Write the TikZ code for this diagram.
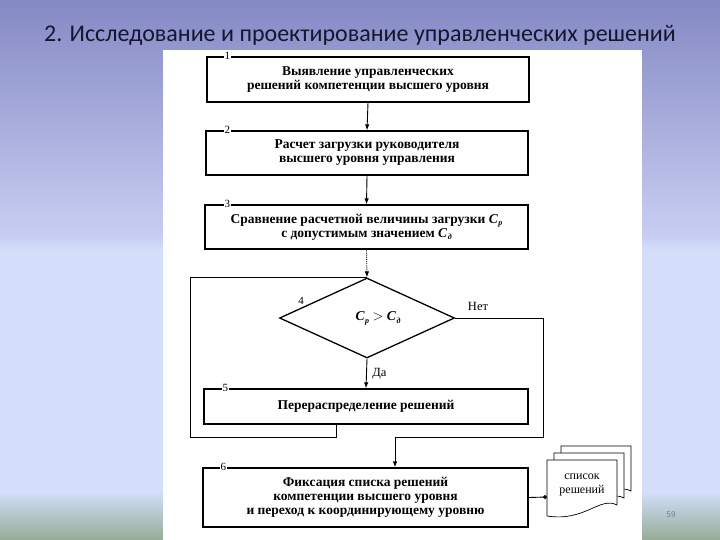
\documentclass[tikz,border=0pt]{standalone}
\usepackage{fontspec}
\setmainfont{Liberation Serif}
\newfontfamily\titlefont{Carlito}
\usetikzlibrary{shapes.geometric,arrows.meta}
\definecolor{bgtop}{RGB}{133,137,196}
\definecolor{bgmid}{RGB}{200,206,242}
\definecolor{bglight}{RGB}{210,222,250}
\definecolor{bggreen}{RGB}{150,172,150}
\definecolor{titlecol}{RGB}{22,22,50}
\definecolor{pgcol}{RGB}{120,130,150}
\tikzset{
  stepbox/.style={draw, line width=1.3pt, fill=white, align=center, inner sep=2pt,
    font=\fontsize{13.5}{14}\selectfont\bfseries},
  numlbl/.style={fill=white, inner sep=1pt, font=\fontsize{11}{12}\selectfont},
  conn/.style={line width=0.9pt},
  arr/.style={line width=0.9pt, -{Latex[length=6pt,width=4.5pt]}},
  page/.style={draw, line width=0.7pt, fill=white},
}
\newcommand{\Csub}[1]{\textit{C}\kern0.5pt\raisebox{-0.45ex}{\fontsize{8}{9}\selectfont\textit{#1}}}
\begin{document}
\begin{tikzpicture}[x=1pt,y=-1pt]
\useasboundingbox (0,0) rectangle (720,540);
% background
\shade[top color=bgtop, bottom color=bgmid] (0,0) rectangle (720,236);
\shade[top color=bgmid, bottom color=bglight] (0,236) rectangle (720,250);
\fill[bglight] (0,250) rectangle (720,492);
\shade[top color=bglight, bottom color=bggreen] (0,492) rectangle (720,540);
\fill[white] (163,50) rectangle (642,540);
% title
\node[font=\titlefont\fontsize{24}{26}\selectfont, text=titlecol] (title) at (360,35)
  {2. Исследование и проектирование управленческих решений};
% boxes
\node[stepbox, minimum width=322pt, minimum height=45pt] (b1) at (368,79.5)
  {Выявление управленческих\\решений компетенции высшего уровня};
\node[stepbox, minimum width=322pt, minimum height=44pt] (b2) at (367,153)
  {Расчет загрузки руководителя\\высшего уровня управления};
\node[stepbox, minimum width=323pt, minimum height=44pt] (b3) at (366.5,227)
  {Сравнение расчетной величины загрузки \Csub{р}\\с допустимым значением \Csub{д}};
\node[draw, line width=1.3pt, shape=diamond, aspect=2.2, inner sep=0pt,
  minimum width=175pt, minimum height=80pt] (dia) at (367,318) {};
\node[font=\fontsize{13.5}{14}\selectfont\bfseries] (cond) at (378,318) {\Csub{р} $>$ \Csub{д}};
\node[stepbox, minimum width=324pt, minimum height=35pt] (b5) at (366,406.5)
  {Перераспределение решений};
\node[stepbox, minimum width=325pt, minimum height=59pt] (b6) at (365.5,497.5)
  {Фиксация списка решений\\компетенции высшего уровня\\и переход к координирующему уровню};
% number labels
\node[numlbl] (n1) at ([xshift=21pt]b1.north west) {1};
\node[numlbl] (n2) at ([xshift=22pt]b2.north west) {2};
\node[numlbl] (n3) at ([xshift=23pt]b3.north west) {3};
\node[numlbl] (n4) at (301,301) {4};
\node[numlbl] (n5) at ([xshift=22pt]b5.north west) {5};
\node[numlbl] (n6) at ([xshift=21pt]b6.north west) {6};
% connectors
\draw[arr] (b1.south) -- (b2.north);
\draw[arr] (b2.south) -- (b3.north);
\draw[arr, densely dotted] (b3.south) -- (dia.north);
\coordinate (lA) at (336,0);
\coordinate (lB) at (190,437);
\draw[conn] (b5.south -| lA) |- (lB) |- (dia.north);
\draw[arr] (dia.south) -- node[right, font=\fontsize{12.5}{14}\selectfont, xshift=2pt] (da) {Да} (b5.north);
\coordinate (nA) at (543,437);
\coordinate (nB) at (395,0);
\draw[arr] (dia.east) -| (nA) -| (b6.north -| nB);
\node[font=\fontsize{12.5}{14}\selectfont] (net) at (478,306) {Нет};
% document stack
\foreach \dx/\dy in {14/-14, 7/-7, 0/0} {
  \draw[page] (547+\dx,460+\dy) -- (617+\dx,460+\dy) -- (617+\dx,505+\dy)
    .. controls (600+\dx,496+\dy) and (585+\dx,522+\dy) .. (547+\dx,516+\dy) -- cycle;
}
\node[align=center, font=\fontsize{12}{14}\selectfont, inner sep=0pt] (doc) at (582,485)
  {список\\решений};
\coordinate (docW) at (547,497);
\draw[conn, -{Circle[length=4pt]}] (b6.east) -- (docW);
% page number
\node[font=\sffamily\fontsize{9}{10}\selectfont, text=pgcol] (pg) at (671,515) {59};
\end{tikzpicture}
\end{document}
